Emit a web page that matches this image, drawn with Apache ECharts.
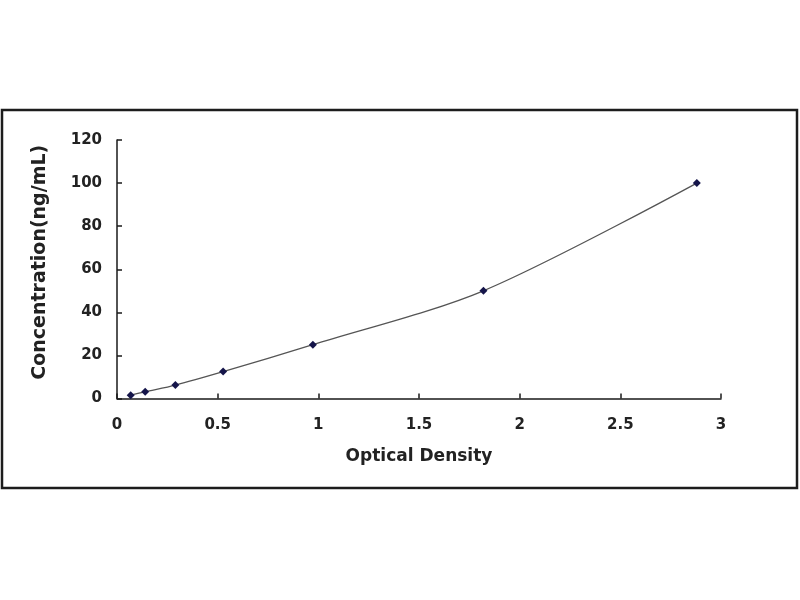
<!DOCTYPE html>
<html>
<head>
<meta charset="utf-8">
<script src="https://cdn.jsdelivr.net/npm/echarts@6/dist/echarts.min.js"></script>
<style>
html,body{margin:0;padding:0;background:#fff;}
#chart{width:800px;height:600px;}
</style>
</head>
<body>
<div id="chart"></div>
<script>
// Data
const opticalDensity = [0.068, 0.14, 0.29, 0.527, 0.973, 1.82, 2.88];
const concentration = [1.56, 3.12, 6.25, 12.5, 25, 50, 100];
const xAxisTitle = 'Optical Density';
const yAxisTitle = 'Concentration(ng/mL)';

const points = opticalDensity.map((x, i) => [x, concentration[i]]);

const chart = echarts.init(document.getElementById('chart'));
const fontFam = '"DejaVu Sans", Arial, sans-serif';
chart.setOption({
  backgroundColor: '#ffffff',
  animation: false,
  graphic: [{
    type: 'rect',
    shape: {x: 2, y: 110, width: 795, height: 378},
    style: {fill: 'none', stroke: '#1c1c1c', lineWidth: 2.5},
    z: 0
  }],
  grid: {left: 117, right: 79, top: 140, bottom: 201.5, containLabel: false},
  xAxis: {
    type: 'value', min: 0, max: 3, interval: 0.5,
    name: xAxisTitle, nameLocation: 'middle', nameGap: 50,
    nameTextStyle: {fontFamily: fontFam, fontWeight: 'bold', fontSize: 17, color: '#222'},
    axisLine: {show: true, lineStyle: {color: '#1a1a1a', width: 1.5}},
    axisTick: {show: true, inside: true, length: 5, lineStyle: {color: '#1a1a1a', width: 1.5}},
    axisLabel: {fontFamily: fontFam, fontWeight: 'bold', fontSize: 15, color: '#222', margin: 19},
    splitLine: {show: false}
  },
  yAxis: {
    type: 'value', min: 0, max: 120, interval: 20,
    name: yAxisTitle, nameLocation: 'middle', nameGap: 67,
    nameTextStyle: {fontFamily: fontFam, fontWeight: 'bold', fontSize: 19, color: '#222', padding: [0, 0, 0, 14]},
    axisLine: {show: true, lineStyle: {color: '#1a1a1a', width: 1.5}},
    axisTick: {show: true, inside: true, length: 5, lineStyle: {color: '#1a1a1a', width: 1.5}},
    axisLabel: {fontFamily: fontFam, fontWeight: 'bold', fontSize: 15, color: '#222', margin: 15},
    splitLine: {show: false}
  },
  series: [{
    type: 'line',
    data: points,
    smooth: 0.3,
    symbol: 'diamond',
    symbolSize: 8,
    itemStyle: {color: '#15154a'},
    lineStyle: {color: '#555', width: 1.3}
  }]
});
</script>
</body>
</html>
